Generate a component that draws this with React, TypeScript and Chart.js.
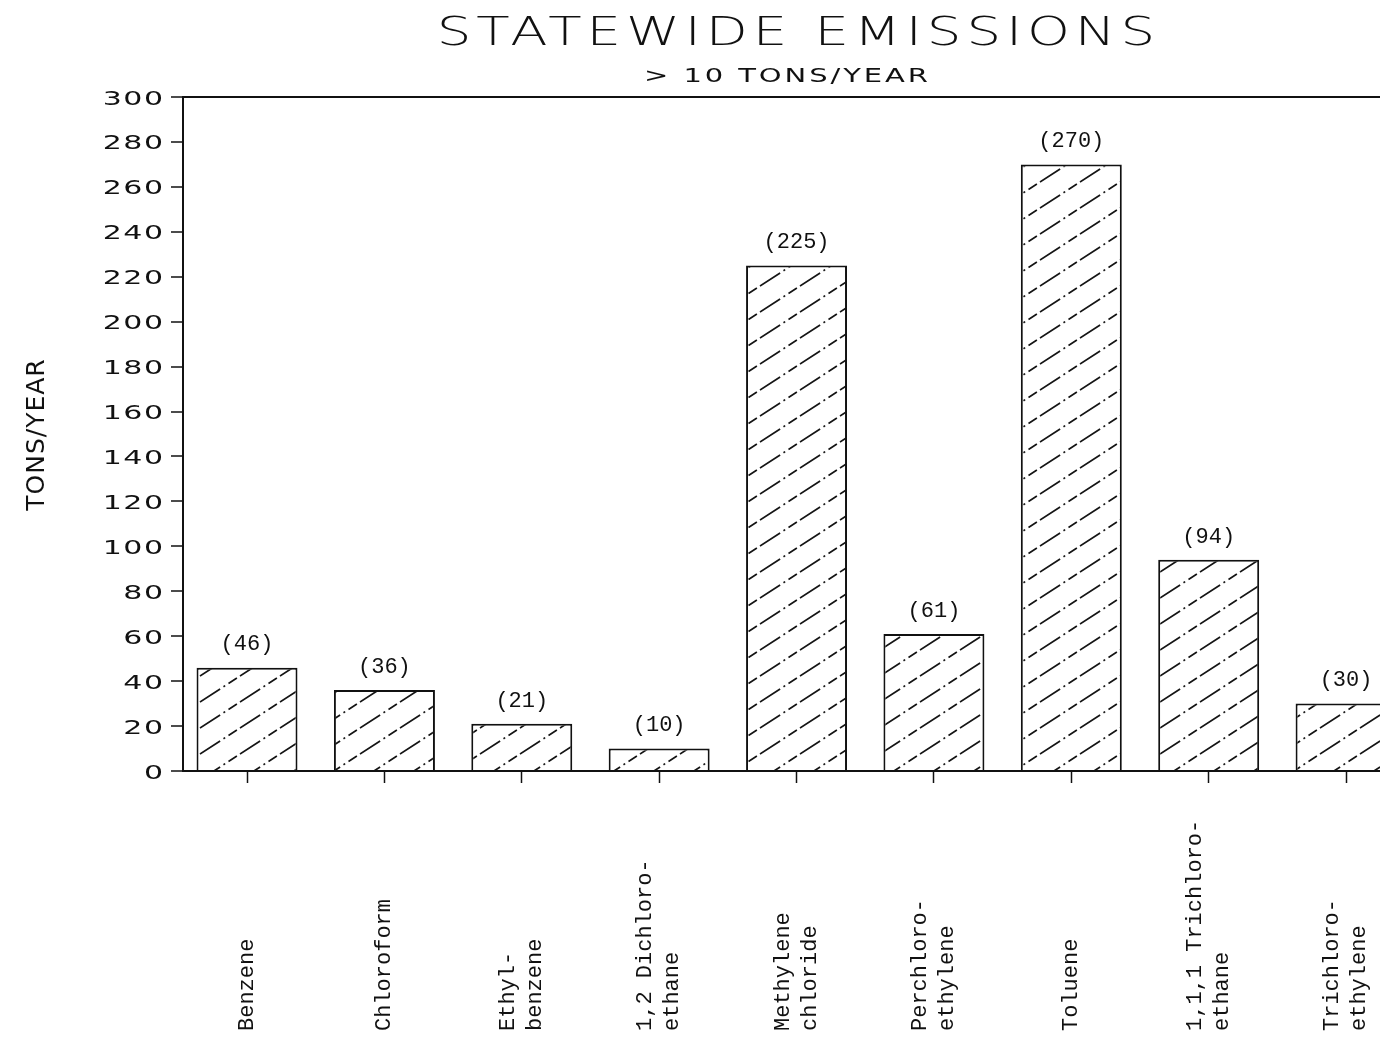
import React, { useEffect, useRef } from 'react';
import { Chart, registerables } from 'chart.js';

Chart.register(...registerables);

const TITLE = 'STATEWIDE EMISSIONS';
const SUBTITLE = '> 10 TONS/YEAR';
const Y_TITLE = 'TONS/YEAR';

const CATEGORIES: string[][] = [
  ['Benzene'],
  ['Chloroform'],
  ['Ethyl-', 'benzene'],
  ['1,2 Dichloro-', 'ethane'],
  ['Methylene', 'chloride'],
  ['Perchloro-', 'ethylene'],
  ['Toluene'],
  ['1,1,1 Trichloro-', 'ethane'],
  ['Trichloro-', 'ethylene'],
];
const VALUES: number[] = [46, 36, 21, 10, 225, 61, 270, 94, 30];
const Y_TICK_MIN = 0;
const Y_TICK_MAX = 300;
const Y_TICK_STEP = 20;

function makeHatch(): CanvasPattern | string {
  const W = 40;
  const H = 26;
  const c = document.createElement('canvas');
  c.width = W;
  c.height = H;
  const g = c.getContext('2d');
  if (!g) return '#fff';
  g.fillStyle = '#fff';
  g.fillRect(0, 0, W, H);
  g.strokeStyle = '#151515';
  g.lineWidth = 1.7;
  g.setLineDash([24, 4, 2, 4, 10, 4]);
  for (let dx = -1; dx <= 1; dx++) {
    for (let dy = -1; dy <= 1; dy++) {
      g.beginPath();
      g.moveTo(dx * W, H + dy * H);
      g.lineTo(W + dx * W, dy * H);
      g.stroke();
    }
  }
  return g.createPattern(c, 'repeat') || '#fff';
}

function drawText(
  ctx: CanvasRenderingContext2D,
  text: string,
  x: number,
  y: number,
  font: string,
  sx: number,
  ls: number,
  align: 'left' | 'center' | 'right',
  rot: number
) {
  ctx.save();
  ctx.translate(x, y);
  if (rot) ctx.rotate(rot);
  ctx.scale(sx, 1);
  ctx.font = font;
  (ctx as any).letterSpacing = '0px';
  ctx.textAlign = 'left';
  ctx.textBaseline = 'alphabetic';
  const w = ctx.measureText(text).width + ls * (text.length - 1);
  let x0 = 0;
  if (align === 'center') x0 = -w / 2;
  else if (align === 'right') x0 = -w;
  (ctx as any).letterSpacing = ls + 'px';
  ctx.fillStyle = '#111';
  ctx.fillText(text, x0, 0);
  ctx.restore();
}

const textPlugin = {
  id: 'scanTexts',
  afterDraw(chart: any) {
    const ctx: CanvasRenderingContext2D = chart.ctx;
    const xs = chart.scales.x;
    const ys = chart.scales.y;

    drawText(ctx, TITLE, 796, 45, '200 39px "DejaVu Sans"', 1.4, 3.5, 'center', 0);
    drawText(ctx, SUBTITLE, 786, 82, '20px "DejaVu Sans"', 1.45, 2, 'center', 0);
    drawText(ctx, Y_TITLE, 44, 435, '25px "DejaVu Sans"', 1, 1, 'center', -Math.PI / 2);

    ys.ticks.forEach((t: any) => {
      const py = ys.getPixelForValue(t.value);
      drawText(ctx, String(t.value), 163, py + 7.5, '20px "DejaVu Sans"', 1.5, 1, 'right', 0);
    });

    ctx.save();
    ctx.fillStyle = '#111';
    ctx.font = '22px "Liberation Mono"';
    CATEGORIES.forEach((lines, i) => {
      const px = xs.getPixelForValue(i);
      lines.forEach((ln, j) => {
        const off = (j - (lines.length - 1) / 2) * 27;
        ctx.save();
        ctx.translate(px + off, 1031);
        ctx.rotate(-Math.PI / 2);
        ctx.textAlign = 'left';
        ctx.textBaseline = 'middle';
        ctx.fillText(ln, 0, 0);
        ctx.restore();
      });
    });

    const meta = chart.getDatasetMeta(0);
    ctx.textAlign = 'center';
    ctx.textBaseline = 'middle';
    meta.data.forEach((bar: any, i: number) => {
      ctx.fillText('(' + VALUES[i] + ')', bar.x, bar.y - 23);
    });
    ctx.restore();
  },
};

export default function App() {
  const ref = useRef<HTMLCanvasElement | null>(null);

  useEffect(() => {
    if (!ref.current) return;
    const hatch = makeHatch();
    const chart = new Chart(ref.current, {
      type: 'bar',
      data: {
        datasets: [
          {
            label: 'Tons/Year',
            data: VALUES.map((v, i) => ({ x: i, y: v })),
            backgroundColor: hatch as any,
            borderColor: '#111',
            borderWidth: 2,
            borderSkipped: 'start',
            categoryPercentage: 1,
            barPercentage: 0.735,
          },
        ],
      },
      options: {
        animation: false,
        responsive: false,
        devicePixelRatio: 1,
        layout: { padding: { top: 97, left: 0, right: 0, bottom: 0 } },
        plugins: {
          legend: { display: false },
          tooltip: { enabled: false },
          title: { display: false },
        },
        scales: {
          x: {
            type: 'linear',
            offset: false,
            min: -0.466,
            max: 8.247,
            ticks: { display: false, stepSize: 1, includeBounds: false },
            grid: {
              offset: false,
              drawOnChartArea: false,
              drawTicks: true,
              tickLength: 12,
              tickColor: '#111',
              tickWidth: 1.5,
            },
            border: { display: true, color: '#111', width: 2 },
            afterFit: (s: any) => {
              s.height = 272;
            },
          },
          y: {
            min: Y_TICK_MIN,
            max: Y_TICK_MAX,
            ticks: { display: false, stepSize: Y_TICK_STEP },
            grid: {
              color: (c: any) =>
                c.tick && c.tick.value === Y_TICK_MAX ? '#111' : 'rgba(0,0,0,0)',
              lineWidth: 2,
              drawTicks: true,
              tickLength: 12,
              tickColor: '#111',
              tickWidth: 1.5,
            },
            border: { display: true, color: '#111', width: 2 },
            afterFit: (s: any) => {
              s.width = 183;
            },
          },
        },
      } as any,
      plugins: [textPlugin],
    });
    return () => chart.destroy();
  }, []);

  return (
    <div style={{ position: 'fixed', left: 0, top: 0, width: 1380, height: 1043, overflow: 'hidden', background: '#fff' }}>
      <canvas ref={ref} width={1380} height={1043} style={{ display: 'block' }} />
    </div>
  );
}
